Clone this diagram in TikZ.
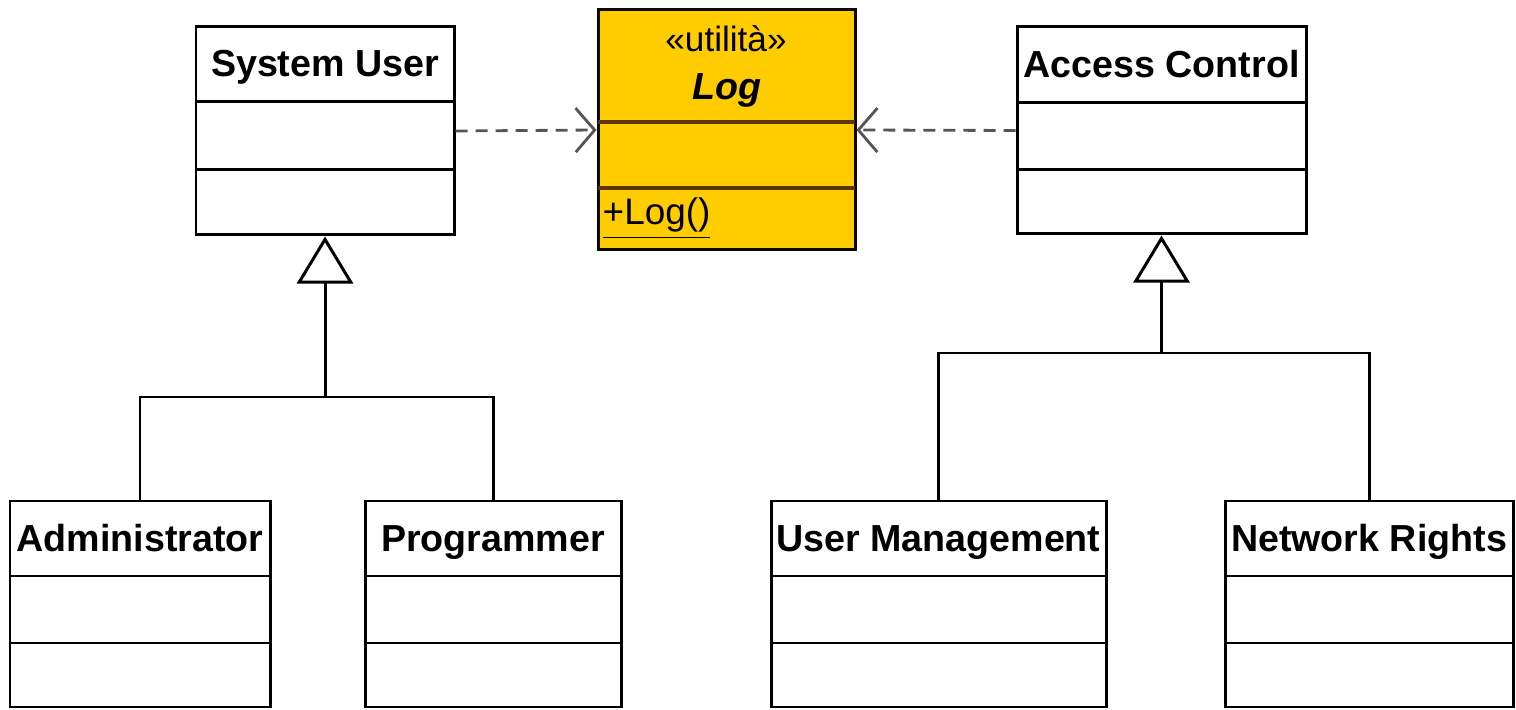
\documentclass[tikz,border=0pt]{standalone}
\usepackage{fontspec}
\setmainfont{Liberation Sans}
\usetikzlibrary{arrows.meta,fit}
\definecolor{loggold}{RGB}{255,204,0}
\definecolor{logline}{RGB}{90,55,0}
\definecolor{deplink}{RGB}{85,85,85}
\tikzset{
  classbox/.style={draw,line width=0.85pt,inner sep=0pt},
  classname/.style={anchor=base,font=\bfseries\fontsize{10.7}{12}\selectfont},
  gen/.style={line width=0.85pt,-{Triangle[open,length=0.47cm,width=0.56cm]}},
  dep/.style={deplink,line width=0.8pt,dash pattern=on 0.12cm off 0.08cm,
    -{Straight Barb[length=0.19cm,width=0.44cm]}}
}
% name, left, right, top, divider 1, divider 2, bottom, title
\newcommand{\umlclass}[8]{%
  \node[classbox,fit={(#2,#4) (#3,#7)}] (#1) {};
  \draw[line width=0.85pt] (#2,#5)--(#3,#5) (#2,#6)--(#3,#6);
  \node[classname] at ({(#2+#3)/2},#5-25) {#8};
}
\begin{document}
\begin{tikzpicture}[x=0.01cm,y=-0.01cm]
                \useasboundingbox (0,0) rectangle (1516,710);
                \umlclass{sysuser}{196}{454}{27}{102}{170}{235}{System User}
                \umlclass{access}{1017}{1306}{27}{103}{170}{234}{Access Control}
                \umlclass{admin}{10}{270}{501}{576}{643}{707}{Administrator}
                \umlclass{prog}{365}{621}{501}{576}{643}{707}{Programmer}
                \umlclass{usermgmt}{771}{1106}{501}{576}{643}{707}{User Management}
                \umlclass{netrights}{1225}{1513}{501}{576}{643}{707}{Network Rights}
                % utility class
                \node[classbox,draw=black!85!logline,fill=loggold,fit={(598,10) (855,250)}] (log) {};
                \draw[logline,line width=0.9pt] (598,122)--(855,122) (598,188)--(855,188);
                \node[anchor=base,font=\fontsize{10}{12}\selectfont] at (726,52) {«utilità»};
                \node[anchor=base,font=\bfseries\itshape\fontsize{10.7}{12}\selectfont] at (727,100) {Log};
                \node[anchor=base west,inner sep=0pt,font=\fontsize{10.5}{12}\selectfont] at (602,225) {\underline{+Log()}};
                % dependencies
                \draw[dep] (sysuser.east)--(log.west);
                \draw[dep] (access.west)--(log.east);
                % generalizations
                \coordinate (jl) at (sysuser.south |- 0,397);
                \coordinate (jr) at (access.south |- 0,353);
                \draw[gen] (jl)--(sysuser.south);
                \draw[gen] (jr)--(access.south);
                \draw[line width=0.85pt] (admin.north) |- (jl) -| (prog.north);
                \draw[line width=0.85pt] (usermgmt.north) |- (jr) -| (netrights.north);
            \end{tikzpicture}
\end{document}
